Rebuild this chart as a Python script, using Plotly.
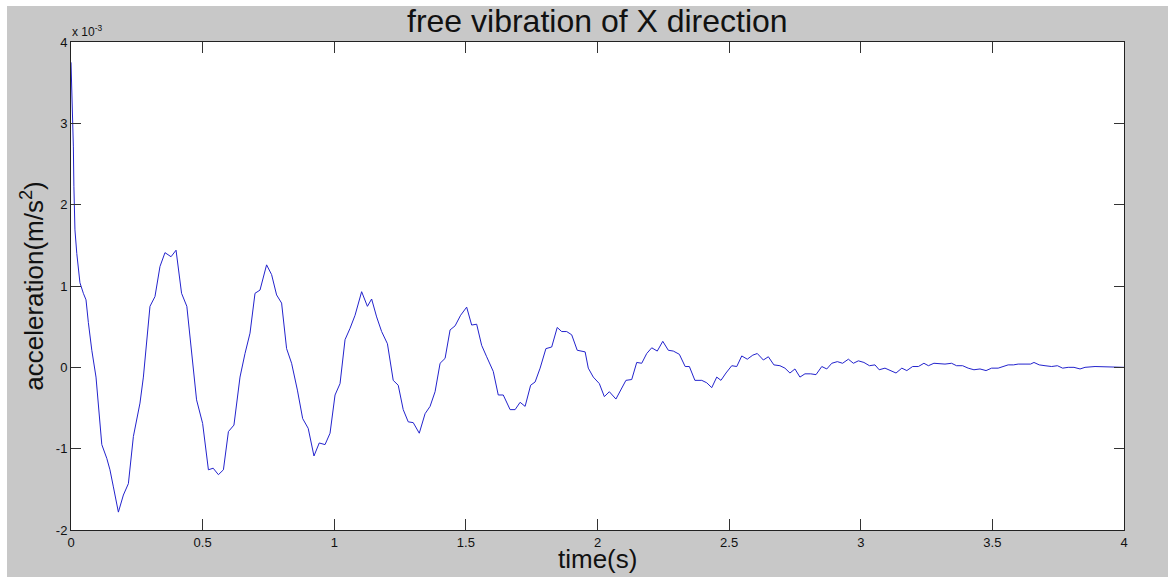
import plotly.graph_objects as go

# time (s)
t = [0.0, 0.006, 0.009, 0.011, 0.015, 0.022, 0.034, 0.047, 0.057, 0.066, 0.079, 0.095, 0.104, 0.117,
     0.136, 0.148, 0.161, 0.18, 0.199, 0.218, 0.237, 0.262, 0.275, 0.288, 0.30, 0.319, 0.338, 0.357,
     0.38, 0.399, 0.42, 0.44, 0.458, 0.477, 0.50, 0.522, 0.54, 0.56, 0.579, 0.598, 0.619, 0.642, 0.661,
     0.68, 0.699, 0.718, 0.743, 0.762, 0.781, 0.80, 0.819, 0.838, 0.86, 0.88, 0.901, 0.923, 0.943, 0.965,
     0.984, 1.003, 1.022, 1.041, 1.06, 1.079, 1.104, 1.126, 1.142, 1.161, 1.18, 1.202, 1.224, 1.243,
     1.262, 1.281, 1.30, 1.323, 1.345, 1.364, 1.383, 1.402, 1.421, 1.44, 1.459, 1.48, 1.503, 1.522,
     1.541, 1.56, 1.579, 1.604, 1.623, 1.642, 1.668, 1.687, 1.706, 1.725, 1.746, 1.763, 1.782, 1.804,
     1.826, 1.847, 1.864, 1.883, 1.902, 1.923, 1.953, 1.965, 1.984, 2.007, 2.026, 2.045, 2.07, 2.088,
     2.108, 2.13, 2.149, 2.168, 2.187, 2.206, 2.227, 2.248, 2.269, 2.288, 2.311, 2.333, 2.349, 2.37,
     2.396, 2.415, 2.434, 2.453, 2.469, 2.488, 2.51, 2.529, 2.548, 2.569, 2.59, 2.607, 2.63, 2.649,
     2.67, 2.693, 2.712, 2.731, 2.75, 2.769, 2.788, 2.81, 2.83, 2.852, 2.871, 2.89, 2.911, 2.931, 2.953,
     2.972, 2.991, 3.012, 3.033, 3.054, 3.07, 3.092, 3.114, 3.134, 3.156, 3.175, 3.197, 3.219, 3.24,
     3.257, 3.278, 3.301, 3.32, 3.345, 3.364, 3.387, 3.408, 3.43, 3.453, 3.476, 3.497, 3.522, 3.541,
     3.56, 3.58, 3.598, 3.624, 3.645, 3.658, 3.678, 3.70, 3.725, 3.747, 3.767, 3.788, 3.81, 3.833,
     3.852, 3.89, 4.0]

# acceleration (x 10^-3 m/s^2)
acc = [3.75, 3.2, 2.71, 2.22, 1.69, 1.40, 1.04, 0.91, 0.83, 0.55, 0.21, -0.12, -0.48, -0.95,
       -1.12, -1.26, -1.47, -1.78, -1.57, -1.43, -0.85, -0.44, -0.12, 0.34, 0.75, 0.87, 1.24, 1.41,
       1.36, 1.44, 0.91, 0.75, 0.21, -0.40, -0.69, -1.26, -1.24, -1.32, -1.26, -0.79, -0.71, -0.12, 0.17,
       0.42, 0.91, 0.95, 1.26, 1.14, 0.89, 0.79, 0.23, 0.05, -0.28, -0.63, -0.75, -1.09, -0.93, -0.95,
       -0.81, -0.34, -0.20, 0.34, 0.48, 0.64, 0.93, 0.75, 0.84, 0.62, 0.44, 0.29, -0.16, -0.22,
       -0.52, -0.67, -0.68, -0.81, -0.57, -0.48, -0.30, 0.05, 0.11, 0.46, 0.51, 0.64, 0.74, 0.52,
       0.53, 0.27, 0.13, -0.05, -0.34, -0.34, -0.52, -0.52, -0.43, -0.48, -0.22, -0.18, -0.01, 0.23,
       0.25, 0.49, 0.44, 0.44, 0.40, 0.21, 0.19, -0.01, -0.12, -0.20, -0.36, -0.30, -0.39, -0.28,
       -0.16, -0.15, 0.06, 0.05, 0.17, 0.24, 0.20, 0.32, 0.21, 0.20, 0.16, 0.01, 0.01, -0.16,
       -0.16, -0.19, -0.25, -0.12, -0.16, -0.07, 0.02, 0.01, 0.14, 0.10, 0.15, 0.17, 0.09, 0.13,
       0.03, 0.02, -0.01, -0.07, -0.02, -0.12, -0.08, -0.08, -0.09, 0.01, -0.02, 0.05, 0.07, 0.05, 0.10,
       0.05, 0.08, 0.06, 0.02, 0.03, -0.03, -0.01, -0.04, -0.07, -0.01, -0.04, 0.01, 0.01, 0.05,
       0.02, 0.05, 0.04, 0.04, 0.05, 0.02, 0.02, -0.01, -0.03, -0.02, -0.04, -0.01, -0.01, 0.01,
       0.03, 0.03, 0.04, 0.04, 0.04, 0.06, 0.03, 0.02, 0.01, 0.02, -0.01, 0.00, 0.00, -0.02,
       0.00, 0.01, 0.0]

x_ticks = [0, 0.5, 1, 1.5, 2, 2.5, 3, 3.5, 4]
x_tick_labels = ["0", "0.5", "1", "1.5", "2", "2.5", "3", "3.5", "4"]
y_ticks = [-2, -1, 0, 1, 2, 3, 4]
y_tick_labels = ["-2", "-1", "0", "1", "2", "3", "4"]

W, H = 1168, 577
L, R, T, B = 71, 44, 42, 47
pw, ph = W - L - R, H - T - B

def px_x(p):
    return (p - L) / pw

def px_y(p):
    return (H - B - p) / ph

FONT = "Liberation Sans, Arial, sans-serif"

fig = go.Figure()
fig.add_trace(go.Scatter(x=t, y=acc, mode="lines",
                         line=dict(color="rgb(35,35,205)", width=1),
                         showlegend=False, hoverinfo="skip"))

axis_common = dict(showgrid=False, zeroline=False, showline=True, linecolor="#222222",
                   linewidth=1, mirror="ticks", ticks="inside", tickcolor="#333333",
                   tickwidth=1, automargin=False,
                   tickfont=dict(family=FONT, size=13, color="#111111"))

fig.update_xaxes(range=[0, 4], tickvals=x_ticks, ticktext=x_tick_labels, ticklen=11,
                 **axis_common)
fig.update_yaxes(range=[-2, 4], tickvals=y_ticks, ticktext=y_tick_labels, ticklen=10,
                 title=dict(text="acceleration(m/s<sup>2</sup>)",
                            font=dict(family=FONT, size=26, color="#111111"), standoff=4),
                 **axis_common)

shapes = [
    dict(type="rect", xref="paper", yref="paper", layer="below", line=dict(width=0),
         fillcolor="white", x0=px_x(0), x1=px_x(W), y0=px_y(6), y1=px_y(0)),
    dict(type="rect", xref="paper", yref="paper", layer="below", line=dict(width=0),
         fillcolor="white", x0=px_x(0), x1=px_x(7), y0=px_y(H), y1=px_y(0)),
]

annotations = [
    dict(text="free vibration of X direction", xref="paper", yref="paper",
         x=0.5, y=px_y(21), xanchor="center", yanchor="middle", showarrow=False,
         font=dict(family=FONT, size=32, color="#111111")),
    dict(text="x 10<sup>-3</sup>", xref="paper", yref="paper",
         x=px_x(70), y=px_y(41), xanchor="left", yanchor="bottom", showarrow=False,
         font=dict(family=FONT, size=12, color="#111111")),
    dict(text="time(s)", xref="paper", yref="paper",
         x=0.5, y=px_y(576), xanchor="center", yanchor="bottom", showarrow=False,
         font=dict(family=FONT, size=26, color="#111111")),
]

fig.update_layout(width=W, height=H, margin=dict(l=L, r=R, t=T, b=B),
                  paper_bgcolor="#c8c8c8", plot_bgcolor="white",
                  shapes=shapes, annotations=annotations)

fig.write_html("out.html")
